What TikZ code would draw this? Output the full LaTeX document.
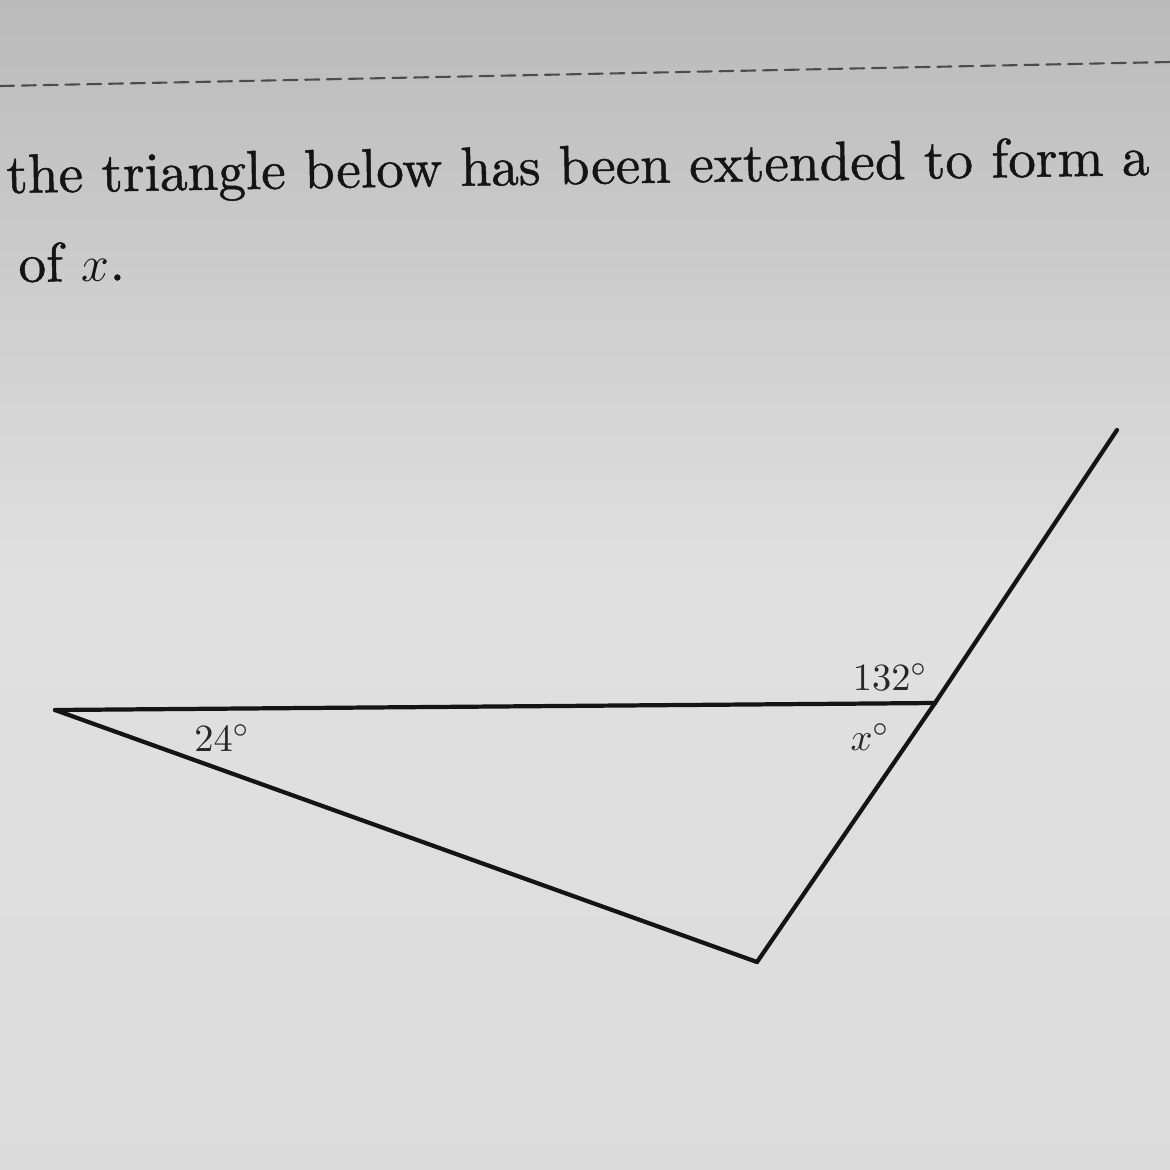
\documentclass[tikz,border=0pt]{standalone}
\usepackage{amsmath}
\usepackage{amssymb}
\usepackage{fontspec}
\newfontfamily\qfont{lmroman10-regular.otf}[FakeBold=0.9]
\usetikzlibrary{arrows}

\begin{document}
\begin{tikzpicture}[line cap=round,line join=round,x=0.01cm,y=-0.01cm,
    side/.style={line width=1.2pt,black!92},
    angtxt/.style={font=\fontsize{11}{13}\selectfont,text=black!85,inner sep=0pt},
    qtxt/.style={font=\qfont\fontsize{15.7}{19}\selectfont,text=black!92,inner sep=0pt,anchor=base west,rotate=0.9}]
                \useasboundingbox (0,0) rectangle (1170,1170);
                \shade[top color=black!27,bottom color=black!14,middle color=black!12] (0,0) rectangle (1170,1170);
                % rule and question text
                \coordinate (r1) at (0,86);
                \coordinate (r2) at (1170,62);
                \draw [dashed,line width=0.6pt,black!70,dash pattern=on 4pt off 2.2pt] (r1)-- (r2);
                \node[qtxt] (q1) at (6,193) {the triangle below has been extended to form a};
                \node[qtxt] (q2) at (18,282) {of $x$.};
                % triangle
                \coordinate (A) at (55,710);
                \coordinate (B) at (935,703);
                \coordinate (C) at (757,962);
                \coordinate (D) at (1117,430);
                \draw [side] (A)-- (B);
                \draw [side] (A)-- (C);
                \draw [side] (C)-- (B);
                \draw [side] (B)-- (D);
                \node[angtxt] (ext) at (890,677) {$132^\circ$};
                \node[angtxt] (xa) at (870,737) {$x^\circ$};
                \node[angtxt] (aa) at (222,738) {$24^\circ$};
\end{tikzpicture}
\end{document}
